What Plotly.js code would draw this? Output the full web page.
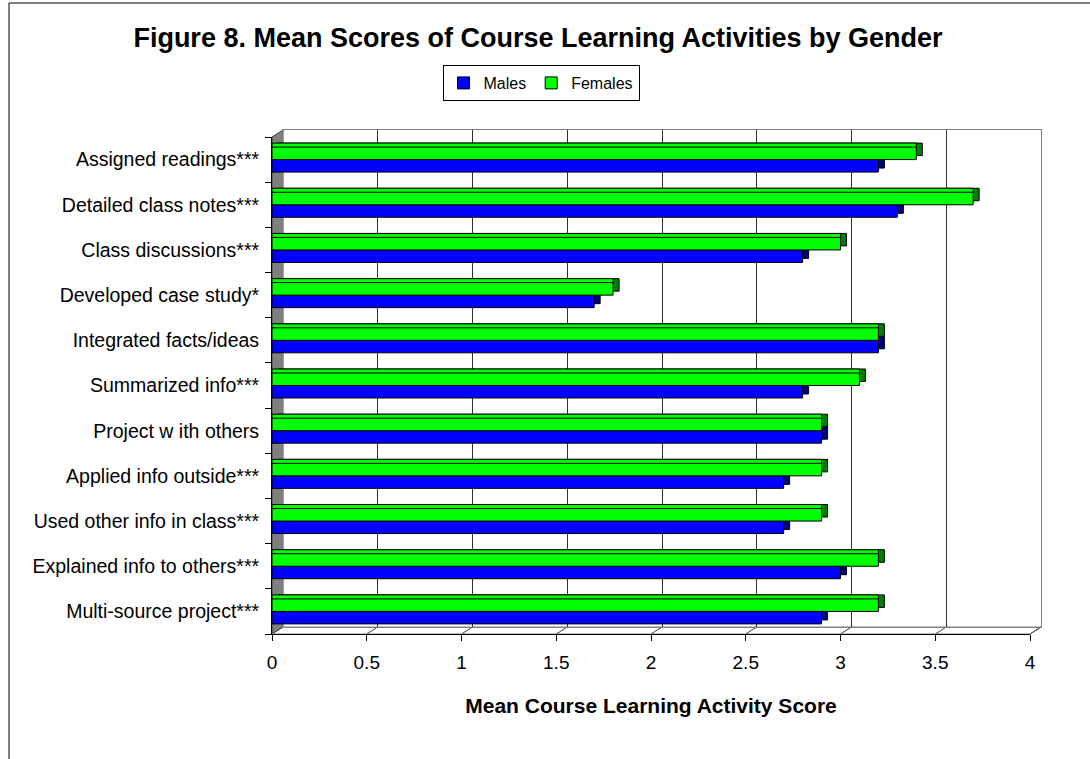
<!DOCTYPE html>
<html><head><meta charset="utf-8">
<script src="https://cdn.plot.ly/plotly-3.0.1.min.js"></script>
<style>html,body{margin:0;padding:0;background:#fff}#chart{width:1090px;height:759px}</style>
</head><body><div id="chart"></div>
<script>
// ---- data (top to bottom as shown) ----
const categories = ["Assigned readings***", "Detailed class notes***", "Class discussions***", "Developed case study*", "Integrated facts/ideas", "Summarized info***", "Project w ith others", "Applied info outside***", "Used other info in class***", "Explained info to others***", "Multi-source project***"];
const males   = [3.2, 3.3, 2.8, 1.7, 3.2, 2.8, 2.9, 2.7, 2.7, 3.0, 2.9];
const females = [3.4, 3.7, 3.0, 1.8, 3.2, 3.1, 2.9, 2.9, 2.9, 3.2, 3.2];
const seriesNames = ["Males", "Females"];
const xTicks = [0, 0.5, 1, 1.5, 2, 2.5, 3, 3.5, 4];
const xTickLabels = ["0", "0.5", "1", "1.5", "2", "2.5", "3", "3.5", "4"];

// ---- geometry helpers ----
const W = 1090, H = 759, L = 272, R = 49, T = 130, B = 125;
const PW = W - L - R, PH = H - T - B;
const fx = px => (px - L) / PW;
const fy = py => (H - B - py) / PH;
const FONT = "Liberation Sans, Arial, sans-serif";
const bottomUp = categories.slice().reverse();

function pair(n, cM, cF, legend) {
  const ax = n === 1 ? '' : String(n);
  const mk = (name, vals, col) => ({
    type: 'bar', orientation: 'h', name: name, x: vals, y: categories,
    xaxis: 'x' + ax, yaxis: 'y' + ax, showlegend: legend, hoverinfo: legend ? 'x+y+name' : 'skip',
    marker: {color: col, line: {color: '#000', width: 1}}
  });
  return [mk(seriesNames[0], males, cM), mk(seriesNames[1], females, cF)];
}

// dummy trace to create back wall subplot
const wall = {type: 'scatter', x: [], y: [], xaxis: 'x', yaxis: 'y', showlegend: false, hoverinfo: 'skip'};
const data = [wall]
  .concat(pair(2, '#000080', '#008000', false))
  .concat(pair(3, '#0000ff', '#00ff00', false))
  .concat(pair(4, '#0000ff', '#00ff00', true));

function hiddenX(dom, anchor) { return {domain: dom, range: [0, 4], visible: false, anchor: anchor, fixedrange: true}; }
function hiddenY(dom, anchor) { return {domain: dom, range: [-0.5, 10.5], type: 'category', categoryorder: 'array', categoryarray: bottomUp, visible: false, anchor: anchor, fixedrange: true}; }

const shapes = [];
// left side wall
shapes.push({type: 'path', xref: 'paper', yref: 'paper', layer: 'below',
  path: `M ${fx(272)} ${fy(137)} L ${fx(283)} ${fy(130)} L ${fx(283)} ${fy(627)} L ${fx(272)} ${fy(634)} Z`,
  fillcolor: '#808080', line: {color: '#404040', width: 1}});
// floor
shapes.push({type: 'path', xref: 'paper', yref: 'paper', layer: 'below',
  path: `M ${fx(272)} ${fy(634)} L ${fx(283)} ${fy(627)} L ${fx(1041)} ${fy(627)} L ${fx(1030)} ${fy(634)} Z`,
  fillcolor: '#ffffff', line: {color: '#808080', width: 1}});
xTicks.forEach(v => {
  const xp = 272 + v * (1030 - 272) / 4;
  shapes.push({type: 'line', xref: 'paper', yref: 'paper', layer: 'below',
    x0: fx(xp), y0: fy(634), x1: fx(xp + 11), y1: fy(627), line: {color: '#404040', width: 1}});
});
// chart frame
shapes.push({type: 'rect', xref: 'paper', yref: 'paper', layer: 'above',
  x0: fx(9), y0: fy(800), x1: fx(1200), y1: fy(3), line: {color: '#000', width: 1}, fillcolor: 'rgba(0,0,0,0)'});

const layout = {
  width: W, height: H,
  margin: {l: L, r: R, t: T, b: B, pad: 0},
  paper_bgcolor: '#fff', plot_bgcolor: 'rgba(0,0,0,0)',
  barmode: 'group', bargap: 0.447, bargroupgap: 0,
  font: {family: FONT, color: '#000'},
  title: {text: '<b>Figure 8. Mean Scores of Course Learning Activities by Gender</b>',
    font: {family: FONT, size: 27, color: '#000'}, xref: 'container', yref: 'container',
    x: 538 / W, xanchor: 'center', y: 1 - 38 / H, yanchor: 'middle'},
  showlegend: true,
  legend: {orientation: 'h', x: fx(541), xanchor: 'center', y: fy(65), yanchor: 'top',
    bordercolor: '#000', borderwidth: 1, bgcolor: '#fff', font: {family: FONT, size: 16, color: '#000'},
    itemwidth: 30, traceorder: 'normal'},
  // back wall
  xaxis: {domain: [fx(283), fx(1041)], range: [0, 4], tick0: 0, dtick: 0.5, showgrid: true,
    gridcolor: '#303030', gridwidth: 1, showticklabels: false, ticks: '', zeroline: false,
    showline: true, mirror: true, linecolor: '#808080', linewidth: 1, anchor: 'y', fixedrange: true},
  yaxis: {domain: [fy(627), fy(130)], range: [0, 1], showgrid: false, zeroline: false,
    showticklabels: false, ticks: '', showline: true, mirror: true, linecolor: '#808080', linewidth: 1, anchor: 'x', fixedrange: true},
  // 3D side faces
  xaxis2: hiddenX([fx(278), fx(1036)], 'y2'),
  yaxis2: hiddenY([fy(630), fy(133)], 'x2'),
  // 3D top faces
  xaxis3: hiddenX([fx(272), fx(1030)], 'y3'),
  yaxis3: hiddenY([fy(630), fy(133)], 'x3'),
  // front
  xaxis4: {domain: [fx(272), fx(1030)], range: [0, 4], anchor: 'y4', tickmode: 'array',
    tickvals: xTicks, ticktext: xTickLabels, ticks: 'outside', ticklen: 6, tickcolor: '#000', tickwidth: 1,
    ticklabelstandoff: 5,
    showgrid: false, zeroline: false, showline: true, linecolor: '#000', linewidth: 1,
    tickfont: {family: FONT, size: 19, color: '#000'}, fixedrange: true,
    title: {text: '<b>Mean Course Learning Activity Score</b>', font: {family: FONT, size: 21, color: '#000'}, standoff: 26}},
  yaxis4: {domain: [fy(634), fy(137)], range: [-0.5, 10.5], type: 'category', categoryorder: 'array',
    categoryarray: bottomUp, anchor: 'x4', ticks: 'outside', tickson: 'boundaries', ticklen: 6,
    ticklabelstandoff: 8,
    tickcolor: '#000', tickwidth: 1, showgrid: false, zeroline: false, showline: true, linecolor: '#000', linewidth: 1,
    tickfont: {family: FONT, size: 19.5, color: '#000'}, fixedrange: true},
  shapes: shapes
};

Plotly.newPlot('chart', data, layout, {displayModeBar: false, staticPlot: false});
</script></body></html>
